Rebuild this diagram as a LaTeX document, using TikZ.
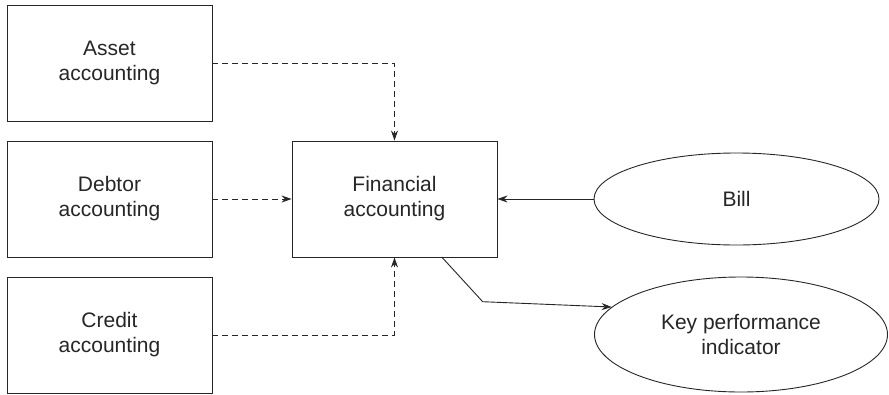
\documentclass[tikz,border=0pt]{standalone}
\usepackage{fontspec}
\setmainfont{Liberation Sans}
\usetikzlibrary{arrows.meta,shapes.geometric}
\begin{document}
\begin{tikzpicture}[x=1pt,y=-1pt,
  line width=0.9pt, draw=black!85,
  every node/.style={font=\fontsize{21}{25}\selectfont, text=black!85, align=center},
  box/.style={draw, minimum width=205pt, minimum height=116pt, inner sep=0pt},
  oval/.style={draw, ellipse, inner sep=0pt},
  link/.style={-{Stealth[length=10pt,width=7pt]}},
  dlink/.style={link, dash pattern=on 6pt off 4pt}]
  \useasboundingbox (0,0) rectangle (889,394);
  % accounting sub-systems
  \node[box] (asset)  at (109.5,63)  {Asset\\accounting};
  \node[box] (debtor) at (109.5,199) {Debtor\\accounting};
  \node[box] (credit) at (109.5,335) {Credit\\accounting};
  \node[box] (fin)    at (394.5,199) {Financial\\accounting};
  % external inputs and outputs
  \node[oval, minimum width=285pt, minimum height=92pt] (bill) at (736.5,199) {Bill};
  \node[oval, minimum width=293pt, minimum height=115pt] (kpi) at (741,334.5) {Key performance\\indicator};
  \coordinate (bend) at (482.7,301.7);
  % flows
  \draw[dlink] (asset.east) -| (fin.north);
  \draw[dlink] (debtor.east) -- (fin.west);
  \draw[dlink] (credit.east) -| (fin.south);
  \draw[link] (bill.west) -- (fin.east);
  \draw[link] (441.7,257) -- (bend) -- (kpi.168);
\end{tikzpicture}
\end{document}
